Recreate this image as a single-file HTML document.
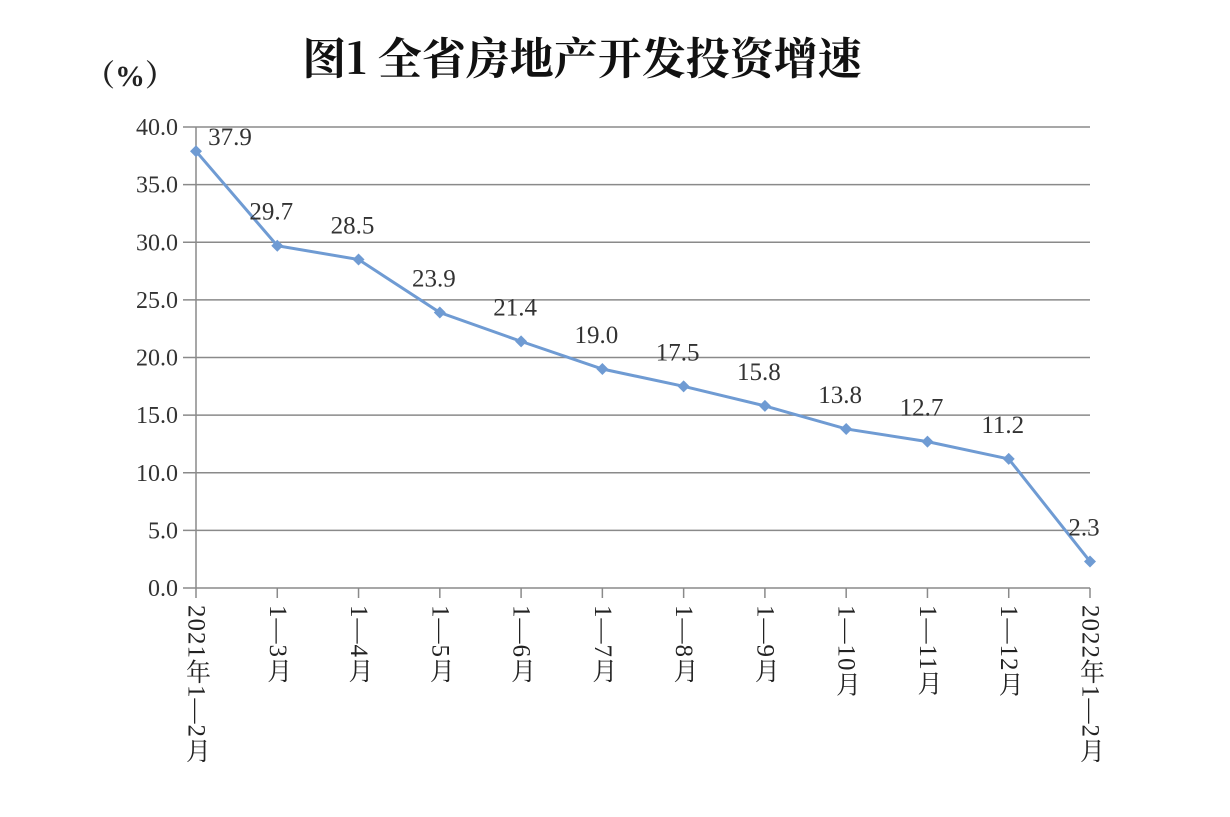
<!DOCTYPE html>
<html><head><meta charset="utf-8"><style>
body{margin:0;background:#fff;}
svg text{font-family:"Liberation Serif","Noto Serif CJK SC",serif;}
</style></head><body>
<svg width="1230" height="812">
<text x="582" y="74" text-anchor="middle" font-size="44" font-weight="bold" fill="#111" style="font-family:'Noto Serif CJK SC',serif">图1 全省房地产开发投资增速</text>
<text x="130" y="86" text-anchor="middle" font-size="30" font-weight="bold" fill="#222">（%）</text>
<g id="grid"></g><g id="xl"></g><g id="series"></g>
</svg>
<script>
const categories=["2021年1—2月","1—3月","1—4月","1—5月","1—6月","1—7月","1—8月","1—9月","1—10月","1—11月","1—12月","2022年1—2月"];
const values=[37.9,29.7,28.5,23.9,21.4,19.0,17.5,15.8,13.8,12.7,11.2,2.3];
const valueLabels=["37.9","29.7","28.5","23.9","21.4","19.0","17.5","15.8","13.8","12.7","11.2","2.3"];
const yTicks=[0,5,10,15,20,25,30,35,40];
const yTickLabels=["0.0","5.0","10.0","15.0","20.0","25.0","30.0","35.0","40.0"];
const NS="http://www.w3.org/2000/svg";
const x0=196,x1=1090,y0=588,y40=127;
const xs=i=>x0+(x1-x0)*i/(categories.length-1);
const ys=v=>y0-(y0-y40)*v/40;
function mk(t,a,p){const e=document.createElementNS(NS,t);for(const k in a)e.setAttribute(k,a[k]);p.appendChild(e);return e;}
const g=document.getElementById('grid');
yTicks.forEach((v,i)=>{
 const l=mk('line',{x1:183,x2:1090,y1:ys(v),y2:ys(v),stroke:'#8a8a8a','stroke-width':1.5},g);
 
 
 const t=mk('text',{x:178,y:ys(v)+8,'text-anchor':'end','font-size':24,fill:'#333'},g);
 t.textContent=yTickLabels[i];
 
 
});
const ax=mk('line',{x1:x0,x2:x0,y1:y40,y2:y0,stroke:'#8a8a8a','stroke-width':1.5},g);


const xl=document.getElementById('xl');
categories.forEach((c,i)=>{
 const tk=mk('line',{x1:xs(i),x2:xs(i),y1:y0,y2:y0+10,stroke:'#8a8a8a','stroke-width':1.5},xl);
 
 
 const t=mk('text',{x:xs(i),y:605,'font-size':25,fill:'#222',style:'writing-mode:vertical-rl;text-orientation:mixed;letter-spacing:1px'},xl);
 t.textContent=c;
 
 
});
const s=document.getElementById('series');
const pl=mk('polyline',{points:values.map((v,i)=>xs(i)+','+ys(v)).join(' '),fill:'none',stroke:'#6f9bd3','stroke-width':3},s);


values.forEach((v,i)=>{
 const x=xs(i),y=ys(v);
 const d=mk('polygon',{points:`${x},${y-6} ${x+6},${y} ${x},${y+6} ${x-6},${y}`,fill:'#6f9bd3'},s);
 
 
 const lx=i===0?x+34:x-6, ly=i===0?y-6:y-26;
 const t=mk('text',{x:lx,y:ly,'text-anchor':'middle','font-size':25,fill:'#333'},s);
 t.textContent=valueLabels[i];
 
 
});
</script>
</body></html>
